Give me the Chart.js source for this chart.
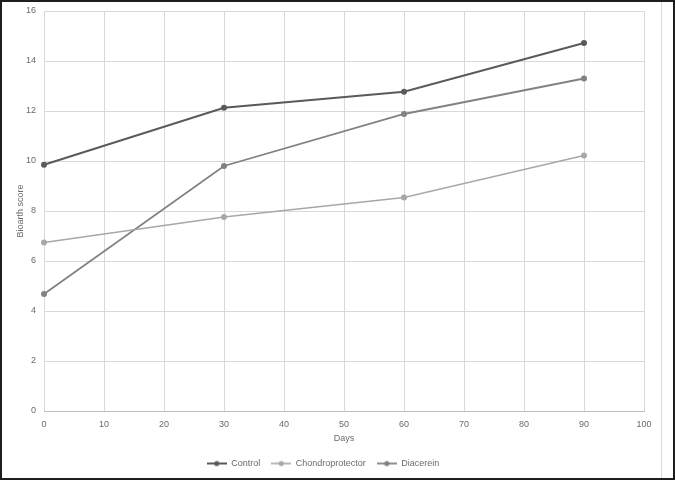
<!DOCTYPE html>
<html>
<head>
<meta charset="utf-8">
<script src="https://cdn.jsdelivr.net/npm/chart.js@4/dist/chart.umd.min.js"></script>
<style>
  html, body { margin: 0; padding: 0; background: #fff; }
  #frame { position: absolute; left: 0; top: 0; width: 675px; height: 480px; box-sizing: border-box; border: 2px solid #1e1e1e; background: #fff; }
  #wrap { position: absolute; left: 0; top: 0; width: 671px; height: 476px; }
  #edge { position: absolute; left: 659px; top: 0; width: 1px; height: 476px; background: #d8d8d8; }
</style>
</head>
<body>
<div id="frame">
  <div id="wrap"><canvas id="c" width="671" height="476"></canvas></div>
  <div id="edge"></div>
</div>
<script>
const days = [0, 30, 60, 90];
const control = [9.85, 12.13, 12.77, 14.72];
const chondroprotector = [6.74, 7.76, 8.54, 10.22];
const diacerein = [4.68, 9.8, 11.88, 13.3];
const seriesNames = ['Control', 'Chondroprotector', 'Diacerein'];
const seriesColors = ['#5a5a5a', '#a8a8a8', '#828282'];
const yTicks = [0, 2, 4, 6, 8, 10, 12, 14, 16];
const xTicks = [0, 10, 20, 30, 40, 50, 60, 70, 80, 90, 100];

const FONT = "'Liberation Sans', Arial, sans-serif";
const TXT = '#6a6a6a';

function legendIcon(color, lw) {
  const cv = document.createElement('canvas');
  cv.width = 20; cv.height = 8;
  const g = cv.getContext('2d');
  g.strokeStyle = color; g.lineWidth = lw;
  g.beginPath(); g.moveTo(0, 4); g.lineTo(20, 4); g.stroke();
  g.fillStyle = color;
  g.beginPath(); g.arc(10, 4, 2.6, 0, Math.PI * 2); g.fill();
  return cv;
}

const allValues = [control, chondroprotector, diacerein];
const widths = [2, 1.6, 1.8];
const datasets = allValues.map((vals, i) => ({
  label: seriesNames[i],
  data: days.map((d, j) => ({ x: d, y: vals[j] })),
  borderColor: seriesColors[i],
  backgroundColor: seriesColors[i],
  borderWidth: widths[i],
  pointRadius: 3,
  pointBorderWidth: 0,
  pointBackgroundColor: seriesColors[i],
  tension: 0,
  fill: false,
  clip: false,
  pointStyle: 'circle'
}));

const icons = seriesColors.map((c, i) => legendIcon(c, widths[i]));

new Chart(document.getElementById('c'), {
  type: 'line',
  data: { datasets },
  options: {
    responsive: false,
    animation: false,
    devicePixelRatio: 1,
    layout: { padding: { left: 0, right: 29, top: 9, bottom: 0 } },
    plugins: {
      tooltip: { enabled: false },
      legend: {
        position: 'bottom',
        labels: {
          usePointStyle: true,
          boxWidth: 20,
          boxHeight: 8,
          pointStyleWidth: 20,
          padding: 11,
          color: TXT,
          font: { family: FONT, size: 9 },
          generateLabels(chart) {
            return chart.data.datasets.map((ds, i) => ({
              text: ds.label,
              fillStyle: ds.borderColor,
              strokeStyle: ds.borderColor,
              fontColor: TXT,
              lineWidth: 0,
              pointStyle: icons[i],
              datasetIndex: i,
              hidden: false
            }));
          }
        }
      }
    },
    scales: {
      x: {
        type: 'linear',
        min: 0, max: 100,
        afterBuildTicks(scale) { scale.ticks = xTicks.map(v => ({ value: v })); },
        afterFit(scale) { scale.height = 37; },
        grid: { color: '#d9d9d9', lineWidth: 1, drawTicks: false },
        border: { color: '#bfbfbf', width: 1 },
        ticks: { color: TXT, font: { family: FONT, size: 9 }, padding: 8, maxRotation: 0 },
        title: { display: true, text: 'Days', color: TXT, font: { family: FONT, size: 9 }, padding: { top: 0, bottom: 4 } }
      },
      y: {
        type: 'linear',
        min: 0, max: 16,
        afterBuildTicks(scale) { scale.ticks = yTicks.map(v => ({ value: v })); },
        afterFit(scale) { scale.width = 42; scale.paddingTop = 0; scale.paddingBottom = 0; },
        grid: { color: '#d9d9d9', lineWidth: 1, drawTicks: false },
        border: { display: false },
        ticks: { color: TXT, font: { family: FONT, size: 9, lineHeight: 0.2 }, padding: 8 },
        title: { display: true, text: 'Bioarth score', color: TXT, font: { family: FONT, size: 9 }, padding: { top: 13, bottom: 0 } }
      }
    }
  }
});
</script>
</body>
</html>
